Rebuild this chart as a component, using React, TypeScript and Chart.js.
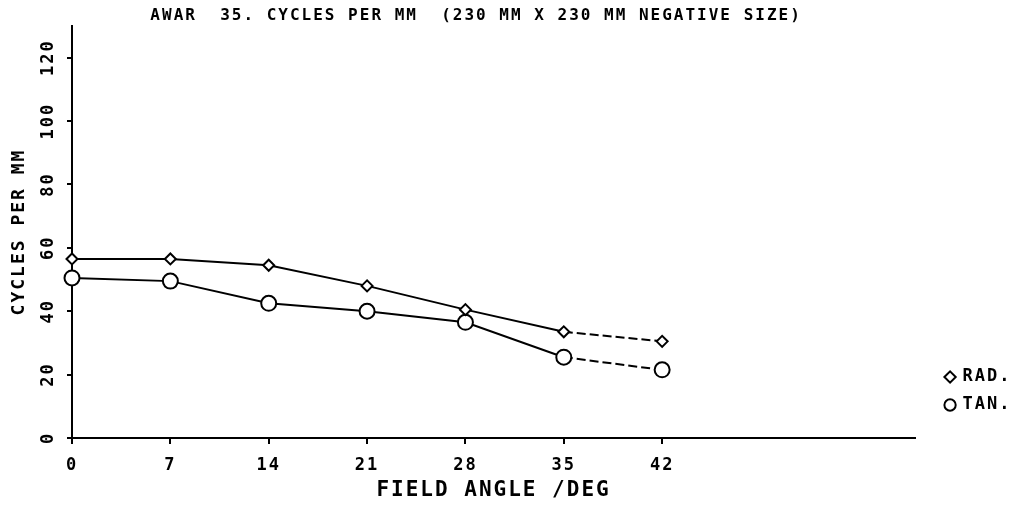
import React, { useEffect, useRef } from "react";
import { Chart, registerables } from "chart.js";

Chart.register(...registerables);

// ---- data ----
const FIELD_ANGLES = [0, 7, 14, 21, 28, 35, 42];
const RAD_VALUES = [56.5, 56.5, 54.5, 48, 40.5, 33.5, 30.5];
const TAN_VALUES = [50.5, 49.5, 42.5, 40, 36.5, 25.5, 21.5];
const X_TICKS = [0, 7, 14, 21, 28, 35, 42];
const Y_TICKS = [0, 20, 40, 60, 80, 100, 120];
const SERIES_LABELS = ["RAD.", "TAN."];
const TITLE = "AWAR  35. CYCLES PER MM  (230 MM X 230 MM NEGATIVE SIZE)";
const X_TITLE = "FIELD ANGLE /DEG";
const Y_TITLE = "CYCLES PER MM";
const X_MAX = 60;
const Y_MAX = 130;

const FONT = "'DejaVu Sans Mono', monospace";
const INK = "#000";

const spacingPlugin = {
  id: "letterSpacing",
  beforeUpdate(chart: any) {
    chart.ctx.letterSpacing = "2px";
  },
  beforeDraw(chart: any) {
    chart.ctx.letterSpacing = "2px";
  },
};

const legendPlacement = {
  id: "legendPlacement",
  afterLayout(chart: any) {
    const lg = chart.legend;
    if (!lg) return;
    const w = lg.width;
    const h = lg.height;
    lg.left = chart.chartArea.right + 20;
    lg.right = lg.left + w;
    lg.bottom = chart.chartArea.bottom - 13.5;
    lg.top = lg.bottom - h;
  },
};

const dashTail = (c: any) => (c.p0DataIndex >= 5 ? [9, 4] : undefined);

export default function App() {
  const ref = useRef<HTMLCanvasElement | null>(null);

  useEffect(() => {
    document.body.style.margin = "0";
    const canvas = ref.current;
    if (!canvas) return;
    const chart = new Chart(canvas, {
      type: "line",
      data: {
        datasets: [
          {
            label: SERIES_LABELS[0],
            data: FIELD_ANGLES.map((x, i) => ({ x, y: RAD_VALUES[i] })),
            borderColor: INK,
            backgroundColor: "#fff",
            borderWidth: 2,
            pointStyle: "rectRot",
            pointRadius: 5.5,
            pointBorderWidth: 2,
            pointBackgroundColor: "#fff",
            pointBorderColor: INK,
            fill: false,
            tension: 0,
            clip: false,
            segment: { borderDash: dashTail },
          } as any,
          {
            label: SERIES_LABELS[1],
            data: FIELD_ANGLES.map((x, i) => ({ x, y: TAN_VALUES[i] })),
            borderColor: INK,
            backgroundColor: "#fff",
            borderWidth: 2,
            pointStyle: "circle",
            pointRadius: 7.5,
            pointBorderWidth: 2,
            pointBackgroundColor: "#fff",
            pointBorderColor: INK,
            fill: false,
            tension: 0,
            clip: false,
            segment: { borderDash: dashTail },
          } as any,
        ],
      },
      options: {
        responsive: false,
        animation: false,
        devicePixelRatio: 1,
        layout: { padding: { left: 0, top: 0, right: 25.5, bottom: 16.25 } },
        plugins: {
          title: {
            display: true,
            text: TITLE + "   ",
            fullSize: false,
            color: INK,
            font: { family: FONT, size: 16, weight: "bold", lineHeight: 1.2 },
            padding: { top: 6.4, bottom: 0.4 },
          },
          legend: {
            display: true,
            position: "right",
            align: "end",
            labels: {
              usePointStyle: true,
              boxWidth: 8,
              boxHeight: 8,
              padding: 11,
              color: INK,
              font: { family: FONT, size: 17, weight: "bold" },
            },
          },
          tooltip: { enabled: false },
        },
        scales: {
          x: {
            type: "linear",
            min: 0,
            max: X_MAX,
            afterBuildTicks: (s: any) => {
              s.ticks = X_TICKS.map((v) => ({ value: v }));
            },
            ticks: {
              color: INK,
              autoSkip: false,
              maxRotation: 0,
              padding: 11,
              font: { family: FONT, size: 17, weight: "bold", lineHeight: 1.2 },
            },
            grid: { drawOnChartArea: false, color: INK, lineWidth: 2, tickLength: 6 },
            border: { color: INK, width: 2 },
            title: {
              display: true,
              text: X_TITLE,
              color: INK,
              font: { family: FONT, size: 21, weight: "bold", lineHeight: 0.35 },
              padding: { top: 0, bottom: 0 },
            },
          },
          y: {
            type: "linear",
            min: 0,
            max: Y_MAX,
            afterBuildTicks: (s: any) => {
              s.ticks = Y_TICKS.map((v) => ({ value: v }));
            },
            ticks: {
              color: INK,
              autoSkip: false,
              minRotation: 90,
              maxRotation: 90,
              crossAlign: "center",
              padding: 0,
              font: { family: FONT, size: 17, weight: "bold", lineHeight: 1.2 },
            },
            grid: { drawOnChartArea: false, color: INK, lineWidth: 2, tickLength: 5 },
            border: { color: INK, width: 2 },
            title: {
              display: true,
              text: Y_TITLE,
              color: INK,
              font: { family: FONT, size: 18, weight: "bold", lineHeight: 1.2 },
              padding: { top: 8.2, bottom: 16.8 },
            },
          },
        },
      } as any,
      plugins: [spacingPlugin, legendPlacement],
    });
    return () => chart.destroy();
  }, []);

  return (
    <div style={{ width: 1027, height: 510, background: "#fff" }}>
      <canvas ref={ref} width={1027} height={510} style={{ display: "block" }} />
    </div>
  );
}
